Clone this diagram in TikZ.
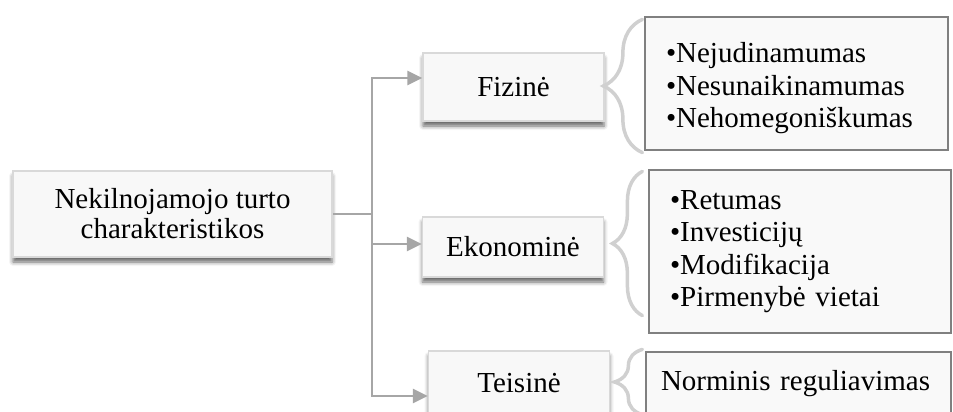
\documentclass[tikz,border=0pt]{standalone}
\usepackage{fontspec}
\setmainfont{Liberation Serif}
\usetikzlibrary{arrows.meta,decorations.pathreplacing,shadows.blur}

\begin{document}
\begin{tikzpicture}[x=1pt, y=-1pt,
    >={Triangle[length=15pt,width=14pt]},
    % Colors
    cline/.style={color={rgb,255:red,166;green,166;blue,166}},
    % Styles
    catbox/.style={draw={rgb,255:red,217;green,217;blue,217}, fill={rgb,255:red,248;green,248;blue,248},
                   line width=1.5pt, minimum width=181pt, inner sep=0pt, align=center,
                   font=\fontsize{29}{30}\selectfont,
                   blur shadow={shadow xshift=0pt, shadow yshift=-5pt, shadow blur radius=4pt, shadow opacity=60}},
    listbox/.style={draw={rgb,255:red,128;green,128;blue,128}, fill={rgb,255:red,249;green,249;blue,249},
                    line width=1.2pt, inner xsep=21pt, inner ysep=0pt, align=left,
                    font=\fontsize{29}{32.5}\selectfont},
    arrow/.style={->, line width=2.7pt, cline},
    brace/.style={decorate, line width=3.5pt, line cap=round, color={rgb,255:red,208;green,208;blue,208}},
  ]
  \clip (0, 0) rectangle (953, 412);

  % Root
  \node[catbox, minimum width=319pt, minimum height=86pt] (root) at (172.5, 214) {
    Nekilnojamojo turto\\charakteristikos
  };
  \coordinate (hub) at (372, 214);

  % Categories
  \node[catbox, minimum height=68pt] (fizine) at (513.5, 87) {Fizinė};
  \node[catbox, minimum height=60pt] (ekonomine) at (513, 247) {Ekonominė};
  \node[catbox, minimum height=64pt] (teisine) at (519, 383) {Teisinė};

  % Lists
  \node[listbox, text width=261pt, minimum height=133pt] (fizlist) at (796.5, 83.5) {
    \rule{0pt}{30pt}•Nejudinamumas\\
    •Nesunaikinamumas\\
    •Nehomegoniškumas
  };
  \node[listbox, text width=260pt, minimum height=163pt] (ekolist) at (800, 251.5) {
    •Retumas\\
    •Investicijų\\
    •Modifikacija\\
    •Pirmenybė vietai
  };
  \node[listbox, text width=275pt, inner xsep=15pt, minimum height=64pt] (teislist) at (798.5, 384) {
    Norminis reguliavimas
  };

  % Arrows
  \draw[line width=2.7pt, cline] (root.east) -- (hub);
  \draw[arrow] (hub) |- ([yshift=9pt]fizine.west);
  \draw[arrow] (hub) |- ([yshift=3pt]ekonomine.west);
  \draw[arrow] (hub) |- ([yshift=-13pt]teisine.west);

  % Braces
  \draw[brace, decoration={brace, amplitude=39pt}]
    ([xshift=-2pt, yshift=-2pt]fizlist.south west) -- ([xshift=-2pt, yshift=-3pt]fizlist.north west);
  \draw[brace, decoration={brace, amplitude=30pt}]
    ([xshift=-6pt, yshift=18pt]ekolist.south west) -- ([xshift=-6pt, yshift=-2pt]ekolist.north west);
  \draw[brace, decoration={brace, amplitude=28pt}]
    ([xshift=-3pt, yshift=2pt]teislist.south west) -- ([xshift=-3pt, yshift=2pt]teislist.north west);

\end{tikzpicture}
\end{document}
